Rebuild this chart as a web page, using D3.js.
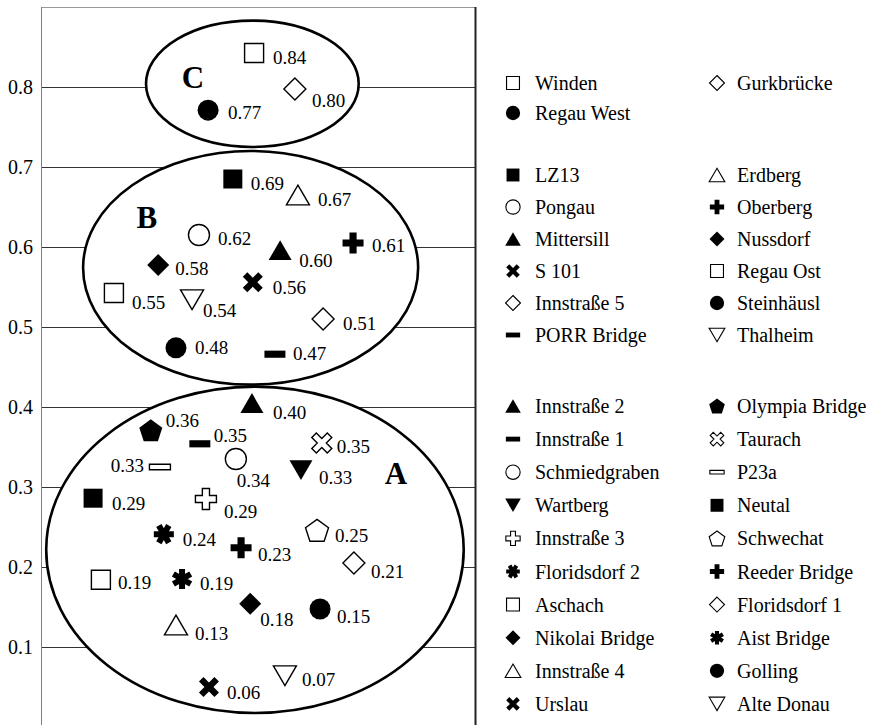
<!DOCTYPE html>
<html><head><meta charset="utf-8">
<script src="https://cdn.jsdelivr.net/npm/d3@7"></script>
<style>
body{margin:0;background:#fff}
svg{display:block}
text{font-family:"Liberation Serif","Times New Roman",serif;fill:#000}
</style>
</head><body>
<svg id="chart" width="873" height="725"></svg>
<script>
// ---------------- data ----------------
const yTicks = [0.1, 0.2, 0.3, 0.4, 0.5, 0.6, 0.7, 0.8];
const groupNames = ["C", "B", "A"];

// Group C (legend order: row-wise, left column then right column)
const stationsC = ["Winden", "Gurkbrücke", "Regau West"];
const xC = [4.91, 5.85, 3.85];
const yC = [0.8425, 0.7975, 0.771];
const labelsC = ["0.84", "0.80", "0.77"];

// Group B
const stationsB = ["LZ13", "Erdberg", "Pongau", "Oberberg", "Mittersill", "Nussdorf",
  "S 101", "Regau Ost", "Innstraße 5", "Steinhäusl", "PORR Bridge", "Thalheim"];
const xB = [4.42, 5.92, 3.64, 7.19, 5.51, 2.70, 4.88, 1.68, 6.50, 3.11, 5.39, 3.48];
const yB = [0.685, 0.665, 0.615, 0.605, 0.596, 0.5775, 0.556, 0.5425, 0.51, 0.474, 0.466, 0.534];
const labelsB = ["0.69", "0.67", "0.62", "0.61", "0.60", "0.58", "0.56", "0.55", "0.51", "0.48", "0.47", "0.54"];

// Group A
const stationsA = ["Innstraße 2", "Olympia Bridge", "Innstraße 1", "Taurach", "Schmiedgraben", "P23a",
  "Wartberg", "Neutal", "Innstraße 3", "Schwechat", "Floridsdorf 2", "Reeder Bridge",
  "Aschach", "Floridsdorf 1", "Nikolai Bridge", "Aist Bridge", "Innstraße 4", "Golling",
  "Urslau", "Alte Donau"];
const xA = [4.86, 2.53, 3.66, 6.47, 4.49, 2.74, 5.99, 1.20, 3.80, 6.36, 2.83, 4.61,
  1.38, 7.21, 4.82, 3.25, 3.11, 6.43, 3.87, 5.62];
const yA = [0.405, 0.371, 0.354, 0.355, 0.335, 0.325, 0.321, 0.286, 0.285, 0.246, 0.241, 0.224,
  0.184, 0.205, 0.154, 0.185, 0.1275, 0.1475, 0.05, 0.064];
const labelsA = ["0.40", "0.36", "0.35", "0.35", "0.34", "0.33", "0.33", "0.29", "0.29", "0.25", "0.24", "0.23",
  "0.19", "0.21", "0.18", "0.19", "0.13", "0.15", "0.06", "0.07"];

// Cluster ellipses (data units): centre x, centre y, radius x, radius y
const ellipseCx = [4.87, 4.83, 4.93];
const ellipseCy = [0.804, 0.574, 0.2215];
const ellipseRx = [2.45, 3.86, 4.81];
const ellipseRy = [0.079, 0.146, 0.204];
// Cluster letter positions
const letterX = [3.5, 2.44, 8.18];
const letterY = [0.8125, 0.6375, 0.3175];

// ---------------- styles / layout ----------------
const markerOf = {
  "Winden": "sqO", "Gurkbrücke": "diaO", "Regau West": "circF",
  "LZ13": "sqF", "Erdberg": "triO", "Pongau": "circO", "Oberberg": "plusF", "Mittersill": "triF",
  "Nussdorf": "diaF", "S 101": "xF", "Regau Ost": "sqO", "Innstraße 5": "diaO", "Steinhäusl": "circF",
  "PORR Bridge": "dashF", "Thalheim": "triDO",
  "Innstraße 2": "triF", "Olympia Bridge": "pentF", "Innstraße 1": "dashF", "Taurach": "xO",
  "Schmiedgraben": "circO", "P23a": "dashO", "Wartberg": "triDF", "Neutal": "sqF", "Innstraße 3": "plusO",
  "Schwechat": "pentO", "Floridsdorf 2": "astH", "Reeder Bridge": "plusF", "Aschach": "sqO",
  "Floridsdorf 1": "diaO", "Nikolai Bridge": "diaF", "Aist Bridge": "astV", "Innstraße 4": "triO",
  "Golling": "circF", "Urslau": "xF", "Alte Donau": "triDO"
};
// label offsets [dx, dy, anchor]
const labelPlace = {
  "Winden": [19, 4], "Gurkbrücke": [17, 11], "Regau West": [20, 2],
  "LZ13": [18, 4], "Erdberg": [20, 4], "Pongau": [19, 3], "Oberberg": [19, 2], "Mittersill": [19, 10],
  "Nussdorf": [17, 3], "S 101": [20, 5], "Regau Ost": [18, 9], "Innstraße 5": [20, 4], "Steinhäusl": [19, 0],
  "PORR Bridge": [18, -1], "Thalheim": [11, 11],
  "Innstraße 2": [21, 9], "Olympia Bridge": [15, -10], "Innstraße 1": [14, -8], "Taurach": [15, 3],
  "Schmiedgraben": [1, 21], "P23a": [-16, -2, "end"], "Wartberg": [18, 7], "Neutal": [19, 5],
  "Innstraße 3": [18, 12], "Schwechat": [18, 5], "Floridsdorf 2": [19, 5], "Reeder Bridge": [17, 7],
  "Aschach": [17, 3], "Floridsdorf 1": [17, 8], "Nikolai Bridge": [10, 16], "Aist Bridge": [18, 4],
  "Innstraße 4": [19, 8], "Golling": [17, 7], "Urslau": [18, 5], "Alte Donau": [17, 4]
};
const markerWidth = {sq: 19, circ: 21, tri: 23, triD: 23, dia: 22, plus: 21, x: 20, dash: 21, pent: 23, ast: 20};

// ---------------- custom symbol types ----------------
function poly(ctx, pts) {
  ctx.moveTo(pts[0][0], pts[0][1]);
  for (let i = 1; i < pts.length; i++) ctx.lineTo(pts[i][0], pts[i][1]);
  ctx.closePath();
}
function rot(pts, a) {
  const c = Math.cos(a), s = Math.sin(a);
  return pts.map(([x, y]) => [x * c - y * s, x * s + y * c]);
}
function plusPts(a, b) {
  return [[-b, -a], [b, -a], [b, -b], [a, -b], [a, b], [b, b], [b, a], [-b, a], [-b, b], [-a, b], [-a, -b], [-b, -b]];
}
const shapes = {
  sq: {draw(ctx, w) { const r = w / 2; ctx.rect(-r, -r, w, w); }},
  circ: {draw(ctx, w) { const r = w / 2; ctx.moveTo(r, 0); ctx.arc(0, 0, r, 0, 2 * Math.PI); }},
  tri: {draw(ctx, w) { const h = w * 0.86; poly(ctx, [[0, -h / 2], [w / 2, h / 2], [-w / 2, h / 2]]); }},
  triD: {draw(ctx, w) { const h = w * 0.86; poly(ctx, [[0, h / 2], [w / 2, -h / 2], [-w / 2, -h / 2]]); }},
  dia: {draw(ctx, w) { const r = w / 2; poly(ctx, [[0, -r], [r, 0], [0, r], [-r, 0]]); }},
  plus: {draw(ctx, w) { poly(ctx, plusPts(w / 2, w * 0.17)); }},
  x: {draw(ctx, w) { const b = w * 0.16, a = w / 2 * Math.SQRT2 - b; poly(ctx, rot(plusPts(a, b), Math.PI / 4)); }},
  dash: {draw(ctx, w) { const t = w * 0.34; ctx.rect(-w / 2, -t / 2, w, t); }},
  dashO: {draw(ctx, w) { const t = w * 0.26; ctx.rect(-w / 2, -t / 2, w, t); }},
  pent: {draw(ctx, w) {
    const R = w / 1.902, pts = [];
    for (let i = 0; i < 5; i++) { const a = -Math.PI / 2 + i * 2 * Math.PI / 5; pts.push([R * Math.cos(a), R * Math.sin(a) + R * 0.1]); }
    poly(ctx, pts);
  }},
  astH: {draw(ctx, w) {
    const a = w / 2, b = w * 0.15, bar = [[-a, -b], [a, -b], [a, b], [-a, b]];
    [0, Math.PI / 3, 2 * Math.PI / 3].forEach(t => poly(ctx, rot(bar, t)));
  }},
  astV: {draw(ctx, w) {
    const a = w / 2, b = w * 0.15, bar = [[-a, -b], [a, -b], [a, b], [-a, b]];
    [Math.PI / 2, Math.PI / 6, 5 * Math.PI / 6].forEach(t => poly(ctx, rot(bar, t)));
  }}
};
function markerSpec(code) {
  const map = {
    sqO: ["sq", false], sqF: ["sq", true], circO: ["circ", false], circF: ["circ", true],
    triO: ["tri", false], triF: ["tri", true], triDO: ["triD", false], triDF: ["triD", true],
    diaO: ["dia", false], diaF: ["dia", true], plusF: ["plus", true], plusO: ["plus", false],
    xF: ["x", true], xO: ["x", false], dashF: ["dash", true], dashO: ["dashO", false],
    pentF: ["pent", true], pentO: ["pent", false], astH: ["astH", true], astV: ["astV", true]
  };
  const [type, filled] = map[code];
  const base = type === "dashO" ? "dash" : (type === "astH" || type === "astV" ? "ast" : type);
  return {type: shapes[type], filled, width: markerWidth[base]};
}

// ---------------- build ----------------
const svg = d3.select("#chart");
const plotLeft = 41, plotRight = 475, plotTop = 7;
const x = d3.scaleLinear().domain([0, 10]).range([plotLeft, plotRight]);
const y = d3.scaleLinear().domain([0, 0.9]).range([727, plotTop]);

// grid lines
svg.append("g").selectAll("line").data(yTicks).join("line")
  .attr("x1", plotLeft).attr("x2", plotRight)
  .attr("y1", d => Math.round(y(d)) + 0.5).attr("y2", d => Math.round(y(d)) + 0.5)
  .attr("stroke", "#333").attr("stroke-width", 1);

// plot borders
svg.append("line").attr("x1", plotLeft).attr("x2", plotRight + 1).attr("y1", plotTop + 0.5).attr("y2", plotTop + 0.5)
  .attr("stroke", "#999").attr("stroke-width", 1);
svg.append("line").attr("x1", plotRight + 0.5).attr("x2", plotRight + 0.5).attr("y1", plotTop).attr("y2", 725)
  .attr("stroke", "#222").attr("stroke-width", 2);

// y axis
const yAxis = d3.axisLeft(y).tickValues(yTicks).tickSize(0).tickPadding(8).tickFormat(d3.format(".1f"));
const ya = svg.append("g").attr("transform", `translate(${plotLeft},0)`).call(yAxis);
ya.select(".domain").remove();
ya.selectAll("text").style("font-family", '"Liberation Serif","Times New Roman",serif').style("font-size", "20px").attr("fill", "#000");
svg.append("line").attr("x1", plotLeft + 0.5).attr("x2", plotLeft + 0.5).attr("y1", plotTop).attr("y2", 725)
  .attr("stroke", "#808080").attr("stroke-width", 1);

// ellipses
svg.append("g").selectAll("ellipse").data(groupNames).join("ellipse")
  .attr("cx", (d, i) => x(ellipseCx[i])).attr("cy", (d, i) => y(ellipseCy[i]))
  .attr("rx", (d, i) => x(ellipseRx[i]) - x(0)).attr("ry", (d, i) => y(0) - y(ellipseRy[i]))
  .attr("fill", "#fff").attr("stroke", "#000").attr("stroke-width", 2.6);

// letters
svg.append("g").selectAll("text").data(groupNames).join("text")
  .attr("x", (d, i) => x(letterX[i])).attr("y", (d, i) => y(letterY[i]))
  .attr("text-anchor", "middle").attr("dominant-baseline", "central")
  .style("font-size", "31px").style("font-weight", "bold").text(d => d);

// points
const groups = [
  {names: stationsC, xs: xC, ys: yC, labels: labelsC},
  {names: stationsB, xs: xB, ys: yB, labels: labelsB},
  {names: stationsA, xs: xA, ys: yA, labels: labelsA}
];
const points = [];
groups.forEach(g => g.names.forEach((n, i) => points.push({name: n, x: g.xs[i], y: g.ys[i], label: g.labels[i]})));

function drawMarker(sel, code, scale) {
  const spec = markerSpec(code);
  sel.append("path")
    .attr("d", d3.symbol().type(spec.type).size(spec.width * scale)())
    .attr("fill", spec.filled ? "#000" : "#fff")
    .attr("stroke", spec.filled ? "none" : "#000")
    .attr("stroke-width", spec.filled ? 0 : 1.4 * Math.max(scale, 0.8));
}

const pg = svg.append("g");
points.forEach(p => {
  const g = pg.append("g").attr("transform", `translate(${x(p.x)},${y(p.y)})`);
  drawMarker(g, markerOf[p.name], 1);
  const lp = labelPlace[p.name];
  g.append("text").attr("x", lp[0]).attr("y", lp[1])
    .attr("text-anchor", lp[2] || "start").attr("dominant-baseline", "central")
    .style("font-size", "19px").text(p.label);
});

// legend
const legendColX = [513, 717];
const legendTextX = [535, 737];
const legendStart = [83, 175, 406];
const legendStep = [30, 32, 33.1];
const lg = svg.append("g");
groups.forEach((g, gi) => {
  g.names.forEach((n, i) => {
    const col = i % 2, row = Math.floor(i / 2);
    const yy = legendStart[gi] + row * legendStep[gi];
    const item = lg.append("g").attr("transform", `translate(${legendColX[col]},${yy})`);
    drawMarker(item, markerOf[n], 0.68);
    item.append("text").attr("x", legendTextX[col] - legendColX[col]).attr("y", 0)
      .attr("dominant-baseline", "central").style("font-size", "20px").text(n);
  });
});
</script>
</body></html>
